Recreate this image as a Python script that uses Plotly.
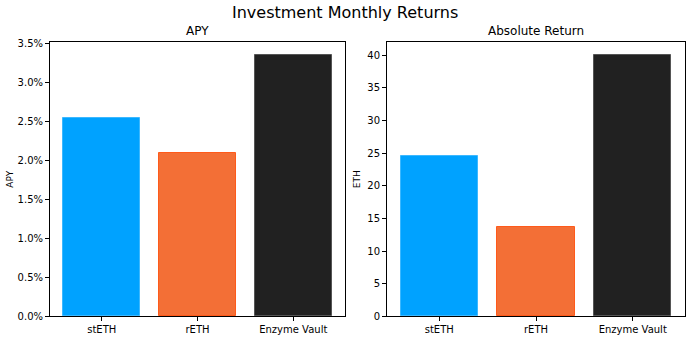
import plotly.graph_objects as go

categories = ["stETH", "rETH", "Enzyme Vault"]
apy_values = [0.02544, 0.02094, 0.0335]
eth_values = [24.54, 13.65, 40.0]
bar_colors = ["#00a2ff", "#f36f36", "#212121"]
edge_colors = ["#3cb8ff", "#ff5a1a", "#555555"]
apy_ticks = [0, 0.005, 0.01, 0.015, 0.02, 0.025, 0.03, 0.035]
eth_ticks = [0, 5, 10, 15, 20, 25, 30, 35, 40]

W, H = 690, 337
FONT = "DejaVu Sans"

fig = go.Figure()
fig.add_trace(go.Bar(x=categories, y=apy_values, width=0.8,
                     marker=dict(color=bar_colors, line=dict(color=edge_colors, width=1)),
                     xaxis="x", yaxis="y", showlegend=False))
fig.add_trace(go.Bar(x=categories, y=eth_values, width=0.8,
                     marker=dict(color=bar_colors, line=dict(color=edge_colors, width=1)),
                     xaxis="x2", yaxis="y2", showlegend=False))

def px_x(p):
    return p / W

def px_y(p):
    # compensate the slight vertical squeeze observed in the rendered picture
    q = (p - 4.2) / 0.968
    return 1 - q / H

ax_common = dict(showline=True, mirror=True, linecolor="black", linewidth=1,
                 ticks="outside", ticklen=4, tickcolor="black", showgrid=False,
                 zeroline=False, tickfont=dict(family=FONT, size=10, color="black"))

fig.update_layout(
    width=W, height=H, margin=dict(l=0, r=0, t=0, b=0),
    paper_bgcolor="white", plot_bgcolor="white",
    font=dict(family=FONT, color="black"),
    bargap=0,
    xaxis=dict(domain=[px_x(50), px_x(345)], range=[-0.54, 2.54], anchor="y", **ax_common),
    yaxis=dict(domain=[px_y(315), px_y(42)], range=[0, max(apy_values) * 1.05], anchor="x",
               tickvals=apy_ticks, tickformat=".1%",
               title=dict(text="APY", font=dict(family=FONT, size=9), standoff=2), **ax_common),
    xaxis2=dict(domain=[px_x(387), px_x(685)], range=[-0.54, 2.54], anchor="y2", **ax_common),
    yaxis2=dict(domain=[px_y(315), px_y(42)], range=[0, max(eth_values) * 1.05], anchor="x2",
                tickvals=eth_ticks,
                title=dict(text="ETH", font=dict(family=FONT, size=9), standoff=5), **ax_common),
    annotations=[
        dict(text="Investment Monthly Returns", x=0.5, y=px_y(13), xref="paper", yref="paper",
             showarrow=False, font=dict(family=FONT, size=16), xanchor="center", yanchor="middle"),
        dict(text="APY", x=(px_x(50) + px_x(345)) / 2, y=px_y(31), xref="paper", yref="paper",
             showarrow=False, font=dict(family=FONT, size=12), xanchor="center", yanchor="middle"),
        dict(text="Absolute Return", x=(px_x(387) + px_x(685)) / 2, y=px_y(31), xref="paper",
             yref="paper", showarrow=False, font=dict(family=FONT, size=12),
             xanchor="center", yanchor="middle"),
    ],
)

fig.write_html("out.html")
